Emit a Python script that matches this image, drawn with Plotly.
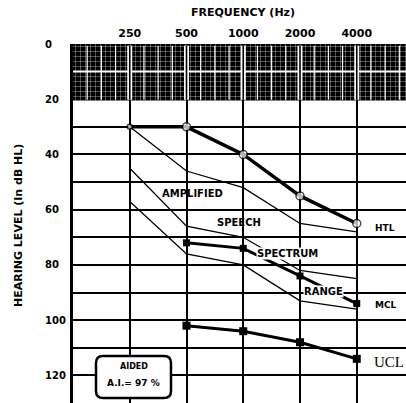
import math
import plotly.graph_objects as go

# Audiometric frequencies (Hz) and tick labels
freqs = [250, 500, 1000, 2000, 4000]
freq_labels = ["250", "500", "1000", "2000", "4000"]
octave_lines = [125, 250, 500, 1000, 2000, 4000, 8000]

# Hearing levels (dB HL)
htl_freqs = [250, 500, 1000, 2000, 4000]
htl_db = [30, 30, 40, 55, 65]

speech_upper_db = [30, 46, 52, 65, 68]
speech_middle_db = [45, 66, 70, 82, 85]
speech_lower_db = [57, 76, 80, 93, 96]

mcl_freqs = [500, 1000, 2000, 4000]
mcl_db = [72, 74, 84, 94]

ucl_freqs = [500, 1000, 2000, 4000]
ucl_db = [102, 104, 108, 114]

level_ticks = [0, 20, 40, 60, 80, 100, 120]
grid_levels = list(range(0, 140, 10))

ai_percent = 97

FONT = "DejaVu Sans"
W, H = 406, 403
L, T = 73, 44
OCT_PX = 56.75
n_oct = (W - L) / OCT_PX
x_range = [math.log10(125), math.log10(125) + n_oct * math.log10(2)]

fig = go.Figure()

# Dark textured band from 0 to 20 dB
fig.add_trace(go.Scatter(
    x=[125, 9000, 9000, 125, 125], y=[0, 0, 20.5, 20.5, 0],
    mode="lines", fill="toself", line=dict(width=0, color="black"),
    fillcolor="black",
    fillpattern=dict(shape="+", bgcolor="black", fgcolor="white",
                     size=5, solidity=0.12, fillmode="replace"),
    hoverinfo="skip", showlegend=False))

# White quarter-octave dividers and 10 dB divider inside the band
qx, qy = [], []
for f0 in octave_lines[:-1]:
    for k in (1, 2, 3):
        f = f0 * 2 ** (k / 4)
        qx += [f, f, None]
        qy += [0.6, 20.2, None]
fig.add_trace(go.Scatter(x=qx, y=qy, mode="lines",
                         line=dict(color="white", width=1.2),
                         hoverinfo="skip", showlegend=False))
fig.add_trace(go.Scatter(x=[125, 9000], y=[10, 10], mode="lines",
                         line=dict(color="white", width=2),
                         hoverinfo="skip", showlegend=False))
ox, oy = [], []
for f in octave_lines[1:]:
    ox += [f, f, None]
    oy += [0.6, 20.2, None]
fig.add_trace(go.Scatter(x=ox, y=oy, mode="lines",
                         line=dict(color="white", width=5),
                         hoverinfo="skip", showlegend=False))
fig.add_trace(go.Scatter(x=ox, y=oy, mode="lines",
                         line=dict(color="black", width=1.6),
                         hoverinfo="skip", showlegend=False))

# Amplified speech spectrum boundaries
for vals in (speech_upper_db, speech_middle_db, speech_lower_db):
    fig.add_trace(go.Scatter(x=freqs, y=vals, mode="lines",
                             line=dict(color="black", width=1.3),
                             hoverinfo="skip", showlegend=False))

# MCL
fig.add_trace(go.Scatter(x=mcl_freqs, y=mcl_db, mode="lines+markers",
                         line=dict(color="black", width=3),
                         marker=dict(symbol="square", size=7, color="black"),
                         showlegend=False))
# UCL
fig.add_trace(go.Scatter(x=ucl_freqs, y=ucl_db, mode="lines+markers",
                         line=dict(color="black", width=3),
                         marker=dict(symbol="square", size=8, color="black"),
                         showlegend=False))
# HTL
fig.add_trace(go.Scatter(x=htl_freqs, y=htl_db, mode="lines+markers",
                         line=dict(color="black", width=3.5),
                         marker=dict(symbol="circle", size=[5, 8, 8, 8, 8],
                                     color="white",
                                     line=dict(color="black", width=1.5)),
                         showlegend=False))

bold = dict(family=FONT, color="black", weight="bold")


def lx(f):
    return math.log10(f)


def px_x(p):
    return (p - L) / (W - L)


def px_y(p):
    return (H - p) / (H - T)


ann = []
# Region labels
ann.append(dict(x=lx(541), y=54, text="AMPLIFIED",
                font=dict(size=10, **bold)))
ann.append(dict(x=lx(949), y=64.5, text="SPEECH",
                font=dict(size=10, **bold)))
ann.append(dict(x=lx(1707), y=76, text="SPECTRUM",
                bgcolor="white", borderpad=0, font=dict(size=10, **bold)))
ann.append(dict(x=lx(2678), y=89.8, text="RANGE",
                bgcolor="white", borderpad=0, font=dict(size=10, **bold)))
# Curve labels
ann.append(dict(x=lx(4900), y=66.5, text="HTL", xanchor="left",
                font=dict(size=9, **bold)))
ann.append(dict(x=lx(4900), y=94.6, text="MCL", xanchor="left",
                font=dict(size=9, **bold)))
ann.append(dict(x=lx(4800), y=115, text="UCL", xanchor="left",
                font=dict(family="Liberation Serif", size=15, color="black")))

# Level labels on the left
for v in level_ticks:
    ann.append(dict(x=px_x(43), xref="paper", y=v, yref="y",
                    text=str(v), xanchor="left",
                    font=dict(size=10, **bold)))

# Axis titles
ann.append(dict(x=px_x(243), xref="paper", y=px_y(12), yref="paper",
                text="FREQUENCY (Hz)", font=dict(size=11, **bold)))
ann.append(dict(x=px_x(18), xref="paper", y=px_y(226), yref="paper",
                text="HEARING LEVEL (In dB HL)", textangle=-90,
                font=dict(size=11, **bold)))

# Aided articulation index box
bx0, bx1, by0, by1, r = 96, 171, 356, 398, 7
path = (
    f"M {px_x(bx0 + r)},{px_y(by0)} L {px_x(bx1 - r)},{px_y(by0)} "
    f"Q {px_x(bx1)},{px_y(by0)} {px_x(bx1)},{px_y(by0 + r)} "
    f"L {px_x(bx1)},{px_y(by1 - r)} "
    f"Q {px_x(bx1)},{px_y(by1)} {px_x(bx1 - r)},{px_y(by1)} "
    f"L {px_x(bx0 + r)},{px_y(by1)} "
    f"Q {px_x(bx0)},{px_y(by1)} {px_x(bx0)},{px_y(by1 - r)} "
    f"L {px_x(bx0)},{px_y(by0 + r)} "
    f"Q {px_x(bx0)},{px_y(by0)} {px_x(bx0 + r)},{px_y(by0)} Z"
)
shapes = [dict(type="path", xref="paper", yref="paper", path=path,
               fillcolor="white", line=dict(color="black", width=2.5),
               layer="above")]
ann.append(dict(x=px_x(133.5), y=px_y(366), xref="paper", yref="paper",
                text="AIDED", font=dict(size=8, **bold)))
ann.append(dict(x=px_x(133.5), y=px_y(383), xref="paper", yref="paper",
                text=f"A.I.= {ai_percent} %", font=dict(size=9, **bold)))

for a in ann:
    a.setdefault("showarrow", False)
    a.setdefault("xanchor", "center")
    a.setdefault("yanchor", "middle")

fig.update_layout(
    width=W, height=H,
    margin=dict(l=L, r=0, t=T, b=0, pad=0),
    paper_bgcolor="white", plot_bgcolor="white",
    showlegend=False,
    annotations=ann, shapes=shapes,
    xaxis=dict(type="log", range=x_range, side="top",
               tickvals=octave_lines,
               ticktext=[""] + freq_labels + [""],
               tickfont=dict(size=11, **bold),
               ticks="", ticklabelstandoff=4,
               showgrid=True, gridcolor="black", gridwidth=2,
               showline=False, zeroline=False, fixedrange=True),
    yaxis=dict(range=[130, 0], tickvals=grid_levels, showticklabels=False,
               ticks="", showgrid=True, gridcolor="black", gridwidth=2,
               showline=True, linecolor="black", linewidth=3,
               zeroline=False, fixedrange=True),
)

fig.write_html("out.html")
